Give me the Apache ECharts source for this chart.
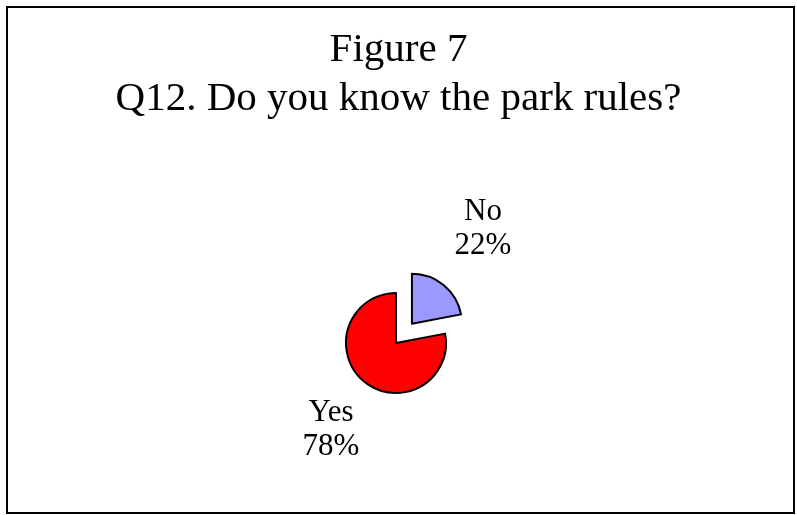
<!DOCTYPE html>
<html>
<head>
<meta charset="utf-8">
<script src="https://cdn.jsdelivr.net/npm/echarts@6/dist/echarts.min.js"></script>
<style>html,body{margin:0;padding:0;background:#fff}#c{width:797px;height:515px}</style>
</head>
<body>
<div id="c"></div>
<script>
var titleLines = ['Figure 7', 'Q12. Do you know the park rules?'];
var categories = ['No', 'Yes'];
var values = [22, 78];
var colors = ['#9999FF', '#FF0000'];

var labelPos = {No: [483, 229], Yes: [331, 430]};

var pieCommon = {
  type: 'pie',
  center: [396, 343],
  radius: 50,
  startAngle: 90,
  clockwise: true,
  emphasis: {disabled: true}
};

var chart = echarts.init(document.getElementById('c'), null, {renderer: 'canvas'});
chart.setOption({
  animation: false,
  backgroundColor: '#fff',
  title: {
    text: titleLines.join('\n'),
    left: 'center',
    top: 21,
    textStyle: {fontFamily: 'Liberation Serif', fontSize: 41, fontWeight: 'normal', color: '#000', lineHeight: 49}
  },
  graphic: [{
    type: 'rect',
    shape: {x: 7, y: 7, width: 787, height: 506},
    style: {fill: 'none', stroke: '#000', lineWidth: 2},
    silent: true
  }],
  series: [
    Object.assign({}, pieCommon, {
      selectedMode: 'single',
      selectedOffset: 25,
      itemStyle: {borderColor: '#000', borderWidth: 2},
      label: {show: false},
      labelLine: {show: false},
      data: categories.map(function (c, i) {
        return {name: c, value: values[i], selected: c === 'No', itemStyle: {color: colors[i]}};
      })
    }),
    Object.assign({}, pieCommon, {
      silent: true,
      selectedMode: false,
      itemStyle: {color: 'rgba(0,0,0,0)', borderWidth: 0},
      label: {
        show: true,
        formatter: '{b}\n{d}%',
        fontFamily: 'Liberation Serif',
        fontSize: 31,
        lineHeight: 34,
        color: '#000',
        align: 'center'
      },
      labelLine: {show: false},
      labelLayout: function (p) {
        var pos = labelPos[categories[p.dataIndex]];
        return {x: pos[0], y: pos[1], align: 'center', verticalAlign: 'middle'};
      },
      data: categories.map(function (c, i) {
        return {name: c, value: values[i]};
      })
    })
  ]
});
</script>
</body>
</html>
